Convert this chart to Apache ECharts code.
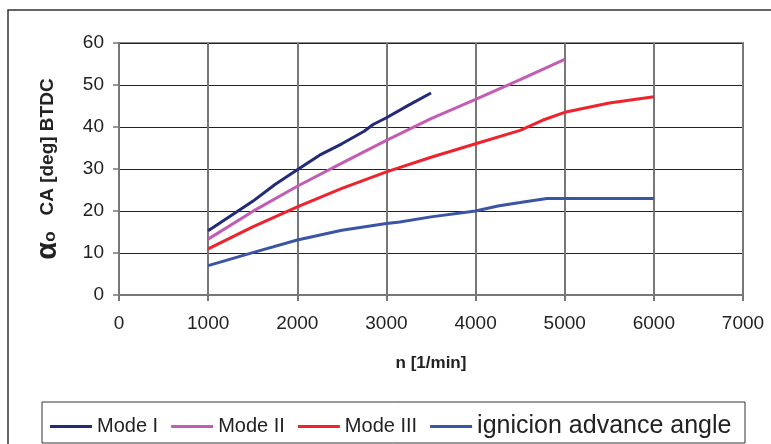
<!DOCTYPE html>
<html>
<head>
<meta charset="utf-8">
<script src="https://cdn.jsdelivr.net/npm/echarts@6/dist/echarts.min.js"></script>
<style>html,body{margin:0;padding:0;background:#fff}#c{width:771px;height:444px}</style>
</head>
<body>
<div id="c"></div>
<script>
var seriesNames = ['Mode I', 'Mode II', 'Mode III', 'ignicion advance angle'];
var modeIx = [1000, 1500, 1750, 2000, 2250, 2500, 2750, 2850, 3000, 3250, 3500];
var modeIy = [15.3, 22.3, 26.3, 29.8, 33.3, 36.0, 39.0, 40.6, 42.2, 45.2, 48.1];
var modeIIx = [1000, 1500, 2000, 2500, 3000, 3500, 4000, 4500, 5000];
var modeIIy = [13.3, 19.9, 25.9, 31.4, 36.8, 42.0, 46.6, 51.3, 56.1];
var modeIIIx = [1000, 1500, 2000, 2500, 3000, 3500, 4000, 4500, 4750, 5000, 5500, 6000];
var modeIIIy = [11.0, 16.2, 21.0, 25.4, 29.3, 32.8, 36.0, 39.2, 41.6, 43.5, 45.7, 47.2];
var ignX = [1000, 1500, 2000, 2500, 3000, 3150, 3500, 4000, 4250, 4500, 4800, 5000, 5500, 6000];
var ignY = [7.0, 10.1, 13.1, 15.4, 17.0, 17.4, 18.6, 20.0, 21.2, 22.0, 23.0, 23.0, 23.0, 23.0];
var xTicks = {min: 0, max: 7000, interval: 1000};
var yTicks = {min: 0, max: 60, interval: 10};

function pairs(xs, ys) { return xs.map(function (x, i) { return [x, ys[i]]; }); }
var colors = ['#232A78', '#C35DB4', '#F0232D', '#3B55A5'];
var data = [pairs(modeIx, modeIy), pairs(modeIIx, modeIIy), pairs(modeIIIx, modeIIIy), pairs(ignX, ignY)];

var chart = echarts.init(document.getElementById('c'));
var font = 'Liberation Sans, Arial, sans-serif';
chart.setOption({
  animation: false,
  backgroundColor: '#fff',
  textStyle: {fontFamily: font},
  grid: {left: 119, right: 28, top: 43, bottom: 149, show: true, borderColor: '#8a8a8a', borderWidth: 2},
  graphic: [
    {type: 'rect', shape: {x: 8, y: 10, width: 800, height: 500}, style: {fill: 'none', stroke: '#333', lineWidth: 1.5}, silent: true, z: -1},
    {type: 'rect', shape: {x: 42, y: 402, width: 703, height: 41}, style: {fill: 'none', stroke: '#333', lineWidth: 1}, silent: true, z: -1}
  ],
  legend: {
    left: 45, top: 409, itemWidth: 42, itemHeight: 3, itemGap: 13, icon: 'rect',
    data: seriesNames,
    textStyle: {fontSize: 20, color: '#222', rich: {big: {fontSize: 25, color: '#222', fontFamily: font}}},
    formatter: function (n) { return n === 'ignicion advance angle' ? '{big|' + n + '}' : n; }
  },
  xAxis: {
    type: 'value', min: xTicks.min, max: xTicks.max, interval: xTicks.interval,
    name: 'n [1/min]', nameLocation: 'middle', nameGap: 60,
    nameTextStyle: {fontSize: 17, fontWeight: 'bold', color: '#222'},
    axisLine: {show: true, lineStyle: {color: '#777', width: 2}},
    axisTick: {show: true, length: 6, lineStyle: {color: '#777', width: 2}},
    axisLabel: {fontSize: 19, color: '#222', margin: 19, formatter: function (v) { return String(v); }},
    splitLine: {show: true, lineStyle: {color: '#777', width: 2}}
  },
  yAxis: {
    type: 'value', min: yTicks.min, max: yTicks.max, interval: yTicks.interval,
    name: '{a|α}{o|o}   CA [deg] BTDC', nameLocation: 'middle', nameGap: 57, nameRotate: 90,
    nameTextStyle: {fontSize: 19, fontWeight: 'bold', color: '#222',
      rich: {a: {fontSize: 29, fontWeight: 'bold', color: '#222', fontFamily: font}, o: {fontSize: 17, fontWeight: 'bold', color: '#222', fontFamily: font, padding: [6, 0, 0, 0]}}},
    axisLine: {show: true, lineStyle: {color: '#777', width: 2}},
    axisTick: {show: true, length: 6, lineStyle: {color: '#777', width: 1.5}},
    axisLabel: {fontSize: 19, color: '#222', margin: 15},
    splitLine: {show: true, lineStyle: {color: '#222', width: 1}}
  },
  series: seriesNames.map(function (n, i) {
    return {name: n, type: 'line', data: data[i], symbol: 'none', color: colors[i],
      lineStyle: {width: 3, color: colors[i]}, z: 3 + i};
  })
});
</script>
</body>
</html>
